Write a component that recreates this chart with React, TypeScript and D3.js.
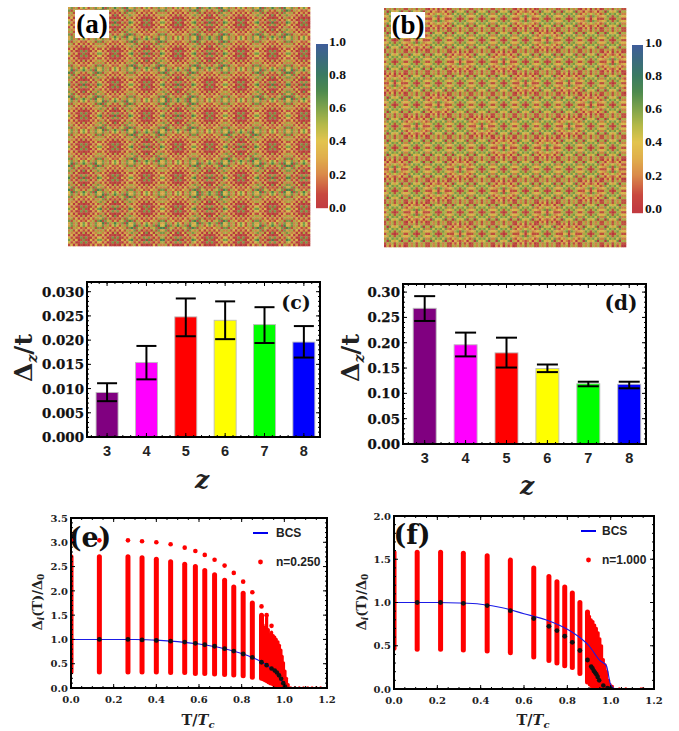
import React from "react";
import * as d3 from "d3";

// ---------- data ----------
const zCats = [3, 4, 5, 6, 7, 8];
const barColors = ["#800080", "#ff00ff", "#ff0000", "#ffff00", "#00ff00", "#0000ff"];
const cValues = [0.0092, 0.0154, 0.0248, 0.0241, 0.0232, 0.0196];
const cErrHigh = [0.0111, 0.0188, 0.0286, 0.028, 0.0268, 0.0229];
const cErrLow = [0.0074, 0.0119, 0.0208, 0.0202, 0.0194, 0.0164];
const cTicks = [0, 0.005, 0.01, 0.015, 0.02, 0.025, 0.03];
const dValues = [0.268, 0.196, 0.18, 0.149, 0.119, 0.118];
const dErrHigh = [0.292, 0.22, 0.21, 0.157, 0.123, 0.123];
const dErrLow = [0.243, 0.173, 0.151, 0.142, 0.114, 0.11];
const dTicks = [0, 0.05, 0.1, 0.15, 0.2, 0.25, 0.3];

const eT = [0, 0.133, 0.267, 0.333, 0.4, 0.467, 0.533, 0.583, 0.627, 0.673, 0.72, 0.763, 0.807, 0.85, 0.893];
const eLow = [0.33, 0.33, 0.33, 0.33, 0.33, 0.32, 0.32, 0.3, 0.3, 0.29, 0.28, 0.27, 0.25, 0.22, 0.2];
const eHigh = [2.7, 2.7, 2.7, 2.68, 2.65, 2.6, 2.55, 2.5, 2.42, 2.33, 2.22, 2.08, 1.95, 1.75, 1.5];
const eTop = [3.04, 3.04, 3.04, 3.02, 3.0, 2.96, 2.89, 2.82, 2.74, 2.64, 2.52, 2.37, 2.19, 1.97, 1.68];
const eMean = [1, 1, 1, 0.99, 0.98, 0.965, 0.945, 0.92, 0.89, 0.86, 0.81, 0.76, 0.7, 0.63, 0.53];
const eDenseT = [0.9, 0.908, 0.917, 0.925, 0.933, 0.94, 0.948, 0.955, 0.962, 0.97, 0.977, 0.984, 0.99, 0.996, 1.003, 1.01, 1.018];
const eDenseHigh = [1.3, 1.25, 1.45, 1.2, 1.1, 1.15, 1.08, 1.05, 1.0, 0.95, 0.88, 0.78, 0.65, 0.52, 0.35, 0.2, 0.07];
const eDenseLow = [0.17, 0.15, 0.13, 0.11, 0.09, 0.08, 0.06, 0.05, 0.04, 0.03, 0.02, 0.01, 0, 0, 0, 0, 0];
const eTailT = [1.03, 1.05, 1.07, 1.09, 1.11, 1.13, 1.15, 1.17];
const eExtraT = [0.917, 0.94];
const eExtraV = [1.5, 1.28];
const eBlackT = [0.917, 0.94, 0.955, 0.965, 0.975, 0.985, 0.995, 1.003];
const eBlackV = [0.47, 0.4, 0.36, 0.32, 0.26, 0.19, 0.1, 0.03];

const fT = [0, 0.107, 0.215, 0.32, 0.43, 0.537, 0.645, 0.715, 0.752, 0.788, 0.823, 0.858, 0.893];
const fLow = [0.47, 0.46, 0.46, 0.45, 0.44, 0.42, 0.37, 0.33, 0.3, 0.27, 0.25, 0.18, 0.08];
const fHigh = [1.58, 1.58, 1.58, 1.57, 1.54, 1.49, 1.4, 1.3, 1.24, 1.18, 1.11, 1.0, 0.89];
const fMean = [1, 1, 1, 0.99, 0.965, 0.905, 0.815, 0.725, 0.675, 0.61, 0.54, 0.445, 0.335];
const fDenseT = [0.902, 0.91, 0.918, 0.926, 0.934, 0.942, 0.95, 0.958, 0.966, 0.974, 0.982, 0.99, 0.998, 1.008];
const fDenseHigh = [0.84, 0.8, 0.78, 0.74, 0.7, 0.65, 0.58, 0.5, 0.34, 0.28, 0.2, 0.1, 0.05, 0.03];
const fDenseLow = [0.05, 0.03, 0.01, 0, 0, 0, 0, 0, 0, 0, 0, 0, 0, 0];
const fTailT = [1.04, 1.07, 1.14, 1.15];
const fBlackT = [0.91, 0.916, 0.922, 0.928, 0.934, 0.94, 0.947, 0.966, 0.985, 1.0];
const fBlackV = [0.26, 0.24, 0.21, 0.19, 0.17, 0.14, 0.1, 0.04, 0.01, 0.005];

const bcsET = [0, 0.2, 0.3, 0.4, 0.5, 0.6, 0.7, 0.8, 0.85, 0.9, 0.95, 0.98, 1.0, 1.02, 1.2];
const bcsEV = [1, 1, 0.997, 0.985, 0.955, 0.905, 0.83, 0.71, 0.63, 0.52, 0.36, 0.22, 0.05, 0, 0];
const bcsFT = [0, 0.2, 0.3, 0.4, 0.5, 0.6, 0.7, 0.8, 0.85, 0.9, 0.95, 0.98, 1.0, 1.02];
const bcsFV = [1, 1, 0.995, 0.98, 0.94, 0.87, 0.8, 0.69, 0.61, 0.5, 0.33, 0.27, 0.05, 0];

const xTicksT = [0, 0.2, 0.4, 0.6, 0.8, 1.0, 1.2];
const eYTicks = [0, 0.5, 1, 1.5, 2, 2.5, 3, 3.5];
const fYTicks = [0, 0.5, 1, 1.5, 2];

const cmapStops = [0, 0.08, 0.2, 0.3, 0.4, 0.5, 0.6, 0.7, 0.8, 0.9, 1];
const cmapColors = ["#c23b40", "#c8483f", "#da8a4a", "#e0ae4c", "#e2c44e", "#b4b948", "#7fa34b", "#4e8a4e", "#3a7a62", "#3b6a80", "#3f5a9e"];
const cbTicks = [0, 0.2, 0.4, 0.6, 0.8, 1];

// repeating unit cells (digit = value x 10)
const tileA = [
  "3625146415263",
  "6152412142516",
  "2514031304152",
  "5230305030325",
  "1403010103041",
  "4130161610314",
  "6314016104136",
  "4130161610314",
  "1403010103041",
  "5230305030325",
  "2514031304152",
  "6152412142516",
  "3625146415263",
];
const tileA2 = [
  "4716257526174",
  "7163513153617",
  "3615021205163",
  "6250406040526",
  "2504010104052",
  "5130262620315",
  "7215017105127",
  "5130262620315",
  "2504010104052",
  "6250406040526",
  "3615021205163",
  "7163513153617",
  "4716257526174",
];
const tileB = [
  "152515251",
  "506434605",
  "264656462",
  "436515634",
  "155101551",
  "436515634",
  "264656462",
  "506434605",
  "152515251",
];
const tileB2 = [
  "031405130",
  "304212403",
  "142545241",
  "325616523",
  "114303411",
  "325616523",
  "142545241",
  "304212403",
  "031405130",
];
// which unit cell is used in each repeat, by block row
const blockA = ["0100101", "0010100", "1001001", "0101000", "0010010", "1000101", "0100100", "0011001"];
const blockB = ["00100010010", "01000001000", "00010100001", "10000010100", "00100000010", "01001000100", "00000101000", "10010000001", "00100100010", "01000001000", "00010010100", "10000100001"];
const GRID = 100;

// ---------- helpers ----------
const SERIF = "'DejaVu Serif', serif";
const SANS = "'Liberation Sans', Arial, sans-serif";
const cmap = d3.scaleLinear<string>().domain(cmapStops).range(cmapColors).interpolate(d3.interpolateRgb);

function Heat({ x0, x1, y0, y1, tiles, blocks, id }: any) {
  const cw = (x1 - x0) / GRID;
  const ch = (y1 - y0) / GRID;
  const idx = d3.range(GRID);
  const n = tiles[0].length;
  return (
    <g filter={`url(#${id})`}>
      {idx.map((r) =>
        idx.map((c) => {
          const br = blocks[Math.floor(r / n) % blocks.length];
          const which = +br[Math.floor(c / n) % br.length];
          const v = +tiles[which][r % n][c % n] / 10;
          return (
            <rect key={c + "-" + r} x={x0 + c * cw} y={y0 + r * ch} width={cw + 0.3} height={ch + 0.3} fill={d3.color(cmap(v))!.darker(0.18).formatHex()} />
          );
        })
      )}
    </g>
  );
}

function ColorBar({ x, w, yTop, yBot, y0, y1, labelX }: any) {
  const scale = d3.scaleLinear().domain([0, 1]).range([y0, y1]);
  const px = d3.range(yTop, yBot);
  return (
    <g>
      {px.map((p) => (
        <rect key={p} x={x} y={p} width={w} height={1.2} fill={cmap(Math.max(0, Math.min(1, scale.invert(p))))} />
      ))}
      {cbTicks.map((t) => (
        <text key={t} x={labelX} y={scale(t)} dy="0.36em" fontFamily="'Liberation Serif', serif" fontWeight="bold" fontSize={13.5} fill="#111">
          {t.toFixed(1)}
        </text>
      ))}
    </g>
  );
}

function TickMarks({ x, y, xMajor, xMinor, yMajor, yMinor }: any) {
  const [l, r] = x.range();
  const [b, t] = y.range();
  return (
    <g stroke="#000" strokeWidth={1}>
      {xMajor.map((v: number) => (
        <g key={"a" + v}>
          <line x1={x(v)} x2={x(v)} y1={b} y2={b - 4} />
          <line x1={x(v)} x2={x(v)} y1={t} y2={t + 4} />
        </g>
      ))}
      {xMinor.map((v: number) => (
        <g key={"b" + v}>
          <line x1={x(v)} x2={x(v)} y1={b} y2={b - 2} />
          <line x1={x(v)} x2={x(v)} y1={t} y2={t + 2} />
        </g>
      ))}
      {yMajor.map((v: number) => (
        <g key={"c" + v}>
          <line y1={y(v)} y2={y(v)} x1={l} x2={l + 4} />
          <line y1={y(v)} y2={y(v)} x1={r} x2={r - 4} />
        </g>
      ))}
      {yMinor.map((v: number) => (
        <g key={"d" + v}>
          <line y1={y(v)} y2={y(v)} x1={l} x2={l + 2} />
          <line y1={y(v)} y2={y(v)} x1={r} x2={r - 2} />
        </g>
      ))}
    </g>
  );
}

function BarPanel({ box, domX, yMax, values, hi, lo, ticks, digits, barW, capW, label, labelPos, labelSize, titleX, titleY, zPos }: any) {
  const x = d3.scaleLinear().domain(domX).range([box[0], box[1]]);
  const y = d3.scaleLinear().domain([0, yMax]).range([box[3], box[2]]);
  const minor = d3.range(0, yMax, ticks[1] / 5);
  return (
    <g>
      {zCats.map((z, i) => (
        <rect key={z} x={x(z) - barW / 2} y={y(values[i])} width={barW} height={y(0) - y(values[i])} fill={barColors[i]} stroke="#bdbdbd" strokeWidth={0.9} />
      ))}
      {zCats.map((z, i) => (
        <g key={z} stroke="#000" strokeWidth={2} fill="none">
          <line x1={x(z)} x2={x(z)} y1={y(hi[i])} y2={y(lo[i])} />
          <line x1={x(z) - capW / 2} x2={x(z) + capW / 2} y1={y(hi[i])} y2={y(hi[i])} />
          <line x1={x(z) - capW / 2} x2={x(z) + capW / 2} y1={y(lo[i])} y2={y(lo[i])} />
        </g>
      ))}
      <TickMarks x={x} y={y} xMajor={zCats} xMinor={d3.range(2.6, 8.4, 0.2)} yMajor={ticks} yMinor={minor} />
      <rect x={box[0]} y={box[2]} width={box[1] - box[0]} height={box[3] - box[2]} fill="none" stroke="#000" strokeWidth={2} />
      {ticks.map((t: number) => (
        <text key={t} x={box[0] - 3} y={y(t)} dy="0.37em" textAnchor="end" fontFamily={SERIF} fontWeight="bold" fontSize={13.4} fill="#111" stroke="#111" strokeWidth={0.25}>
          {t.toFixed(digits)}
        </text>
      ))}
      {zCats.map((z) => (
        <text key={z} x={x(z)} y={box[3] + 13.5} dy="0.36em" textAnchor="middle" fontFamily={SANS} fontWeight="bold" fontSize={14.5} fill="#222">
          {z}
        </text>
      ))}
      <text x={labelPos[0]} y={labelPos[1]} dy="0.36em" textAnchor="middle" fontFamily={SERIF} fontWeight="bold" fontSize={labelSize} fill="#111">
        {label}
      </text>
      <text transform={`translate(${titleX},${titleY}) rotate(-90)`} textAnchor="middle" dy="0.36em" fontFamily={SERIF} fontWeight="bold" fontSize={25} fill="#222">
        Δ
        <tspan fontSize={14} fontStyle="italic" dy="5">z</tspan>
        <tspan dy="-5">/t</tspan>
      </text>
      <text x={zPos[0]} y={zPos[1]} dy="0.25em" textAnchor="middle" fontFamily={SERIF} fontWeight="bold" fontStyle="italic" fontSize={25} fill="#222">
        z
      </text>
    </g>
  );
}

function ScatterPanel({ box, yMax, yTicks, T, low, high, top, mean, denseT, denseLow, denseHigh, tailT, extraT, extraV, blackT, blackV, bcsT, bcsV, label, labelPos, legend, titleXY, ylabelXY, legendX }: any) {
  const x = d3.scaleLinear().domain([0, 1.2]).range([box[0], box[1]]);
  const y = d3.scaleLinear().domain([0, yMax]).range([box[3], box[2]]);
  const line = d3.line<number>().x((d) => x(d)).y((_, i) => y(bcsV[i])).curve(d3.curveMonotoneX);
  const clipId = "clip" + label.replace(/[()]/g, "");
  return (
    <g>
      <clipPath id={clipId}>
        <rect x={box[0]} y={box[2]} width={box[1] - box[0]} height={box[3] - box[2]} />
      </clipPath>
      <text x={labelPos[0]} y={labelPos[1]} dy="0.36em" textAnchor="middle" fontFamily={SERIF} fontWeight="bold" fontSize={labelPos[2]} fill="#111">
        {label}
      </text>
      <g clipPath={`url(#${clipId})`}>
        {T.map((t: number, i: number) => (
          <line key={t} x1={x(t)} x2={x(t)} y1={y(low[i])} y2={y(high[i])} stroke="#f00" strokeWidth={5} strokeLinecap="round" />
        ))}
        {denseT.map((t: number, i: number) => (
          <line key={t} x1={x(t)} x2={x(t)} y1={y(denseLow[i])} y2={y(denseHigh[i])} stroke="#f00" strokeWidth={3.2} strokeLinecap="round" />
        ))}
        {top && T.map((t: number, i: number) => <circle key={t} cx={x(t)} cy={y(top[i])} r={2.3} fill="#f00" />)}
        {extraT && extraT.map((t: number, i: number) => <circle key={t} cx={x(t)} cy={y(extraV[i])} r={2.3} fill="#f00" />)}
        {tailT.map((t: number) => <circle key={t} cx={x(t)} cy={y(0.004)} r={1.5} fill="#f00" />)}
        <path d={line(bcsT) || ""} fill="none" stroke="#1a1ae6" strokeWidth={1.1} />
        {T.map((t: number, i: number) => (t > 0 ? <circle key={t} cx={x(t)} cy={y(mean[i])} r={2.4} fill="#111" /> : null))}
        {blackT.map((t: number, i: number) => <circle key={t} cx={x(t)} cy={y(blackV[i])} r={2.3} fill="#111" />)}
      </g>
      <TickMarks x={x} y={y} xMajor={xTicksT} xMinor={d3.range(0.05, 1.2, 0.05)} yMajor={yTicks} yMinor={d3.range(0, yMax, yTicks[1] / 5)} />
      <rect x={box[0]} y={box[2]} width={box[1] - box[0]} height={box[3] - box[2]} fill="none" stroke="#000" strokeWidth={2} />
      {yTicks.map((t: number) => (
        <text key={t} x={box[0] - 3} y={y(t)} dy="0.37em" textAnchor="end" fontFamily={SERIF} fontWeight="bold" fontSize={10} fill="#222">
          {t.toFixed(1)}
        </text>
      ))}
      {xTicksT.map((t) => (
        <text key={t} x={x(t)} y={box[3] + 11} dy="0.36em" textAnchor="middle" fontFamily={SERIF} fontWeight="bold" fontSize={10} fill="#222">
          {t.toFixed(1)}
        </text>
      ))}
      <text x={titleXY[0]} y={titleXY[1]} textAnchor="middle" dy="0.36em" fontFamily={SERIF} fontWeight="bold" fontSize={14.5} fill="#222">
        T/<tspan fontStyle="italic">T</tspan><tspan fontSize={10} fontStyle="italic" dy="3">c</tspan>
      </text>
      <text transform={`translate(${ylabelXY[0]},${ylabelXY[1]}) rotate(-90)`} textAnchor="middle" dy="0.36em" fontFamily={SERIF} fontWeight="bold" fontSize={13} fill="#222">
        Δ<tspan fontSize={9} fontStyle="italic" dy="2">i</tspan><tspan dy="-2">(T)/Δ</tspan><tspan fontSize={9} dy="2">0</tspan>
      </text>
      <line x1={legendX[0]} x2={legendX[0] + 15} y1={legendX[2]} y2={legendX[2]} stroke="#0000ee" strokeWidth={2} />
      <text x={legendX[1]} y={legendX[2]} dy="0.36em" fontFamily={SANS} fontWeight="bold" fontSize={12} fill="#222">BCS</text>
      <circle cx={legendX[0] + 7.5} cy={legendX[3]} r={2.4} fill="#f00" />
      <text x={legendX[1]} y={legendX[3]} dy="0.36em" fontFamily={SANS} fontWeight="bold" fontSize={12} fill="#222">{legend}</text>
    </g>
  );
}

function LabelBox({ box, text, cx, cy }: any) {
  return (
    <g>
      <rect x={box[0]} y={box[1]} width={box[2] - box[0]} height={box[3] - box[1]} fill="#fff" />
      <text x={cx} y={cy} dy="0.34em" textAnchor="middle" fontFamily="'Liberation Serif', serif" fontWeight="bold" fontSize={27} fill="#000">
        {text}
      </text>
    </g>
  );
}

export default function App() {
  return (
    <svg width={679} height={731} viewBox="0 0 679 731" style={{ position: "absolute", left: 0, top: 0, background: "#fff" }}>
      <defs>
        <filter id="blurA" x="-2%" y="-2%" width="104%" height="104%">
          <feGaussianBlur stdDeviation={0.7} />
        </filter>
      </defs>
      <Heat id="blurA" x0={68} x1={310} y0={7} y1={246} tiles={[tileA, tileA2]} blocks={blockA} />
      <Heat id="blurA" x0={384} x1={626} y0={8} y1={247} tiles={[tileB, tileB2]} blocks={blockB} />
      <LabelBox box={[75, 10, 109, 38]} text="(a)" cx={92} cy={24} />
      <LabelBox box={[391, 12, 425, 38]} text="(b)" cx={408} cy={25} />
      <ColorBar x={316} w={12} yTop={44} yBot={208} y0={207} y1={41} labelX={329} />
      <ColorBar x={632} w={11} yTop={45} yBot={213} y0={208} y1={42} labelX={645} />

      <BarPanel box={[87, 320, 282, 437]} domX={[2.49, 8.41]} yMax={0.032} values={cValues} hi={cErrHigh} lo={cErrLow} ticks={cTicks} digits={3} barW={22} capW={20} label="(c)" labelPos={[296, 302]} labelSize={19} titleX={23} titleY={358} zPos={[202, 482]} />
      <BarPanel box={[403, 646, 284, 444]} domX={[2.47, 8.41]} yMax={0.316} values={dValues} hi={dErrHigh} lo={dErrLow} ticks={dTicks} digits={2} barW={23} capW={21} label="(d)" labelPos={[621, 303]} labelSize={20} titleX={350} titleY={358} zPos={[527, 488]} />

      <ScatterPanel box={[71, 327, 518, 688]} yMax={3.5} yTicks={eYTicks} T={eT} low={eLow} high={eHigh} top={eTop} mean={eMean} denseT={eDenseT} denseLow={eDenseLow} denseHigh={eDenseHigh} tailT={eTailT} extraT={eExtraT} extraV={eExtraV} blackT={eBlackT} blackV={eBlackV} bcsT={bcsET} bcsV={bcsEV} label="(e)" labelPos={[90, 537, 27]} legend="n=0.250" titleXY={[198, 720]} ylabelXY={[37, 602]} legendX={[253, 276, 533, 562]} />
      <ScatterPanel box={[394, 654, 516, 689]} yMax={2} yTicks={fYTicks} T={fT} low={fLow} high={fHigh} mean={fMean} denseT={fDenseT} denseLow={fDenseLow} denseHigh={fDenseHigh} tailT={fTailT} blackT={fBlackT} blackV={fBlackV} bcsT={bcsFT} bcsV={bcsFV} label="(f)" labelPos={[412, 534, 27]} legend="n=1.000" titleXY={[533, 720]} ylabelXY={[361, 602]} legendX={[581, 602, 531, 560]} />
    </svg>
  );
}
